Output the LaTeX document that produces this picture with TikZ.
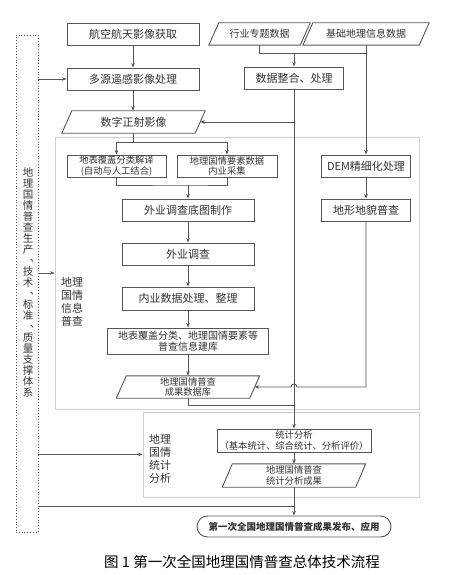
\documentclass[tikz,border=0pt]{standalone}
\usepackage{fontspec}
\setmainfont{Noto Sans CJK SC}
\usetikzlibrary{arrows.meta}
\definecolor{lc}{HTML}{555555}
\definecolor{tx}{HTML}{333333}
\definecolor{reg}{HTML}{D0D0D0}
\newcommand\fL{\fontsize{11pt}{13pt}\selectfont}
\newcommand\fM{\fontsize{10pt}{11pt}\selectfont}
\newcommand\fS{\fontsize{9.3pt}{10.3pt}\selectfont}
\newcommand\fV{\fontsize{10.5pt}{11pt}\selectfont}
\newcommand\fB{\fontsize{9.5pt}{11pt}\selectfont\bfseries}
\newcommand\drawpara[1]{\draw[wire] ([xshift=-5pt]#1.south west) -- ([xshift=5pt]#1.north west) -- ([xshift=5pt]#1.north east) -- ([xshift=-5pt]#1.south east) -- cycle;}
\tikzset{
  wire/.style={draw=lc, line width=0.9pt},
  arr/.style={draw=lc, line width=0.9pt, -{Stealth[length=4.5pt,width=3.5pt]}},
  box/.style={draw=lc, line width=0.9pt, rectangle, inner sep=0pt, text=tx, align=center, minimum height=22pt},
  pmid/.style={rectangle, inner sep=0pt, text=tx, align=center, minimum height=22pt},
  region/.style={draw=reg, line width=0.8pt, rectangle, inner sep=0pt},
  lbl/.style={anchor=west, align=left, inner sep=0pt, text=tx, font=\fL},
  vch/.style={inner sep=0pt, text=tx, font=\fV, text height=8.4pt, text depth=1.4pt},
}
\begin{document}
\begin{tikzpicture}[x=1pt,y=-1pt]
\useasboundingbox (0,0) rectangle (463,575);
\fill[white] (0,0) rectangle (463,575);
% regions
\node[region, minimum width=364pt, minimum height=272pt] (r1) at (237,273) {};
\node[region, minimum width=276pt, minimum height=85pt] (r2) at (281,454.5) {};
% support column
\node[draw=lc, dotted, line width=0.8pt, minimum width=22pt, minimum height=497pt, inner sep=0pt] (sup) at (27,283.5) {};
\foreach \ch/\i in {地/0,理/1,国/2,情/3,普/4,查/5,生/6,产/7,技/9,术/10,标/12,准/13,质/15,量/16,支/17,撑/18,体/19,系/20}
  \node[vch] (v\i) at (28,173+\i*11) {\ch};
\foreach \i in {8,11,14}
  \node[vch] (v\i) at (35,170+\i*11) {、};
% boxes
\node[box, minimum width=132pt, font=\fL] (a) at (133,34) {航空航天影像获取};
\node[box, minimum width=132pt, font=\fL] (b) at (133,79) {多源遥感影像处理};
\node[pmid, minimum width=91pt, font=\fM] (hy) at (259.5,34) {行业专题数据};
\node[pmid, minimum width=116pt, font=\fM] (jc) at (366,34) {基础地理信息数据};
\node[box, minimum width=99pt, font=\fL] (c) at (294,78) {数据整合、处理};
\node[pmid, minimum width=133pt, font=\fL] (or) at (133.5,122) {数字正射影像};
\node[box, minimum width=99pt, font=\fS] (d1) at (116.5,166) {地表覆盖分类解译\\(自动与人工结合)};
\node[box, minimum width=100pt, font=\fS] (d2) at (227,166) {地理国情要素数据\\内业采集};
\node[box, minimum width=132pt, font=\fL] (e) at (188,210) {外业调查底图制作};
\node[box, minimum width=132pt, font=\fL] (f) at (188,254) {外业调查};
\node[box, minimum width=132pt, minimum height=23pt, font=\fL] (g) at (188,298.5) {内业数据处理、整理};
\node[box, minimum width=161pt, minimum height=26pt, font=\fM] (h) at (188,341) {地表覆盖分类、地理国情要素等\\普查信息建库};
\node[pmid, minimum width=133pt, font=\fS] (db) at (188,387) {地理国情普查\\成果数据库};
\node[box, minimum width=89pt, font=\fL] (dem) at (366,166) {DEM精细化处理};
\node[box, minimum width=89pt, font=\fL] (dx) at (366,210) {地形地貌普查};
\node[box, minimum width=154pt, minimum height=23pt, font=\fS] (st) at (294,440.5) {统计分析\\（基本统计、综合统计、分析评价）};
\node[pmid, minimum width=133pt, minimum height=23pt, font=\fS] (cg) at (294,475.5) {地理国情普查\\统计分析成果};
\node[box, rounded corners=10.5pt, minimum width=194pt, minimum height=21pt, font=\fB] (fb) at (294,526.5) {第一次全国地理国情普查成果发布、应用};
\drawpara{hy}
\drawpara{jc}
\drawpara{or}
\drawpara{db}
\drawpara{cg}
% labels
\node[lbl] (l1) at (61,301.5) {地理\\国情\\信息\\普查};
\node[lbl] (l2) at (149,459) {地理\\国情\\统计\\分析};
\node[font=\fontsize{14.5pt}{16pt}\selectfont, text=black, inner sep=0pt] (cap) at (242,562) {图 1 第一次全国地理国情普查总体技术流程};
% connectors
\draw[arr] (a.south) -- (b.north);
\draw[arr] (b.south) -- (b.south |- or.north);
\coordinate (j1) at (294,53);
\draw[wire] (hy.south) |- (jc.south |- j1);
\draw[arr] (j1) -- (c.north);
\draw[arr] (jc.south) -- (dem.north);
\draw[arr] (dem.south) -- (dx.north);
\draw[arr] (c.south |- or.east) -- (or.east);
\draw[arr] (c.south) -- (st.north);
\coordinate (j2) at (133.5,142);
\draw[wire] (or.south) -- (j2);
\draw[wire] (d1.north |- j2) -- (d2.north |- j2);
\draw[arr] (d1.north |- j2) -- (d1.north);
\draw[arr] (d2.north |- j2) -- (d2.north);
\coordinate (j3) at (188,185);
\draw[wire] (d1.south) |- (j3) -| (d2.south);
\draw[arr] (j3) -- (e.north);
\draw[arr] (e.south) -- (f.north);
\draw[arr] (f.south) -- (g.north);
\draw[arr] (g.south) -- (h.north);
\draw[arr] (h.south) -- (db.north);
\coordinate (hp) at (297,387);
\draw[arr] (dx.south) |- (hp) arc[start angle=0,end angle=180,radius=3pt] -- (db.east);
\coordinate (j4) at (294,405);
\draw[wire] (db.south) |- (j4);
\draw[arr] (st.south) -- (cg.north);
\draw[arr] (cg.south) -- (fb.north);
\coordinate (j5) at (294,506);
\draw[wire] (sup.east |- j5) -- (j5);
\draw[arr] (sup.east |- b.west) -- (b.west);
\draw[arr] (sup.east |- r1.west) -- (r1.west);
\draw[arr] (sup.east |- r2.west) -- (r2.west);
\end{tikzpicture}
\end{document}
